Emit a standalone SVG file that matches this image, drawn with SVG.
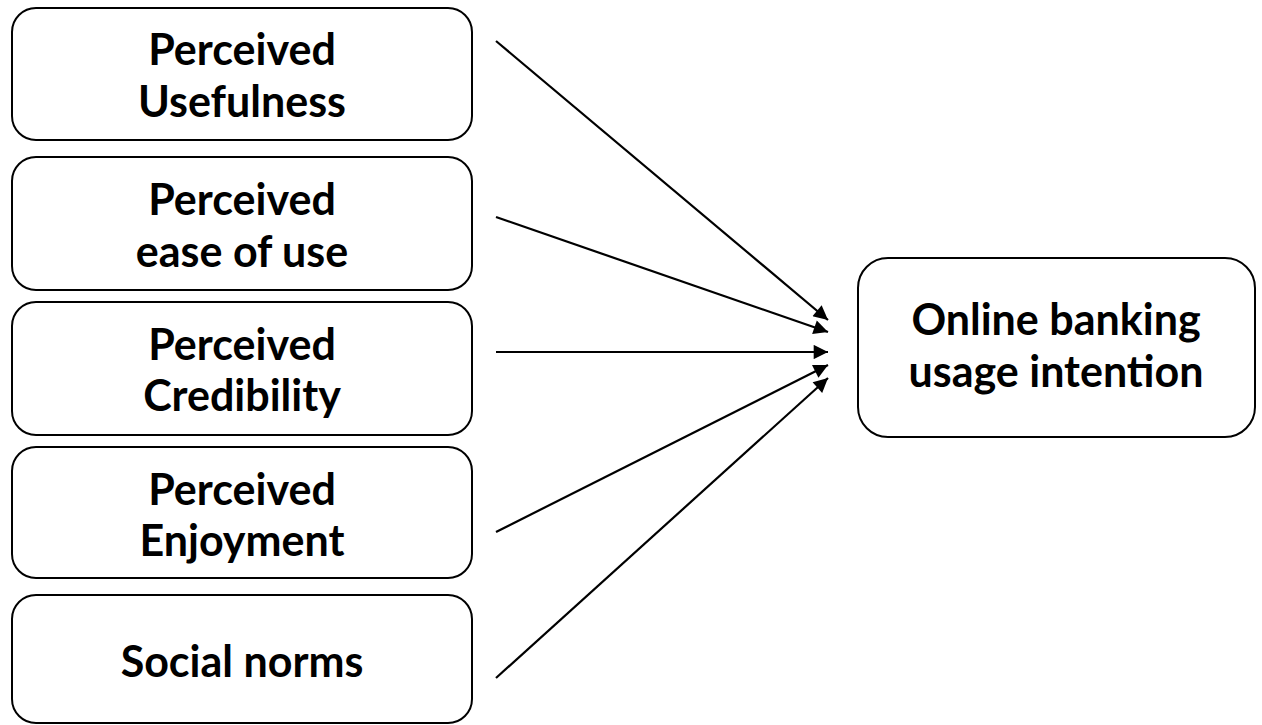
<svg xmlns="http://www.w3.org/2000/svg" width="1262" height="725" viewBox="0 0 1262 725">
<style>
.box{fill:#fff;stroke:#000;stroke-width:2}
.t{font-family:Lato,"Open Sans","Liberation Sans",sans-serif;font-weight:700;font-size:43px;fill:#000;text-anchor:middle}
.c{stroke:#000;stroke-width:2.2;fill:none;marker-end:url(#ah)}
</style>
<defs>
<marker id="ah" viewBox="0 0 10 10" refX="10" refY="5" markerWidth="7.5" markerHeight="6.5" orient="auto" markerUnits="strokeWidth">
<path d="M0,0 L10,5 L0,10 z" fill="#000"/>
</marker>
</defs>
<rect width="1262" height="725" fill="#fff"/>
<g id="n1"><rect class="box" x="12" y="8" width="460" height="132" rx="24"/><text class="t" x="242" y="65">Perceived</text><text class="t" x="242" y="117">Usefulness</text></g>
<g id="n2"><rect class="box" x="12" y="157" width="460" height="133" rx="24"/><text class="t" x="242" y="215">Perceived</text><text class="t" x="242" y="267">ease of use</text></g>
<g id="n3"><rect class="box" x="12" y="302" width="460" height="133" rx="24"/><text class="t" x="242" y="360">Perceived</text><text class="t" x="242" y="411">Credibility</text></g>
<g id="n4"><rect class="box" x="12" y="447" width="460" height="131" rx="24"/><text class="t" x="242" y="505">Perceived</text><text class="t" x="242" y="556">Enjoyment</text></g>
<g id="n5"><rect class="box" x="12" y="595" width="460" height="128" rx="24"/><text class="t" x="242" y="677">Social norms</text></g>
<g id="n6"><rect class="box" x="858" y="258" width="397" height="179" rx="30"/><text class="t" x="1056" y="335">Online banking</text><text class="t" x="1056" y="387">usage intention</text></g>
<g id="connectors">
<line class="c" x1="496" y1="41" x2="828" y2="320"/>
<line class="c" x1="496" y1="217" x2="828" y2="332"/>
<line class="c" x1="496" y1="352" x2="828" y2="352"/>
<line class="c" x1="496" y1="532" x2="828" y2="365"/>
<line class="c" x1="496" y1="678" x2="828" y2="378"/>
</g>
</svg>
